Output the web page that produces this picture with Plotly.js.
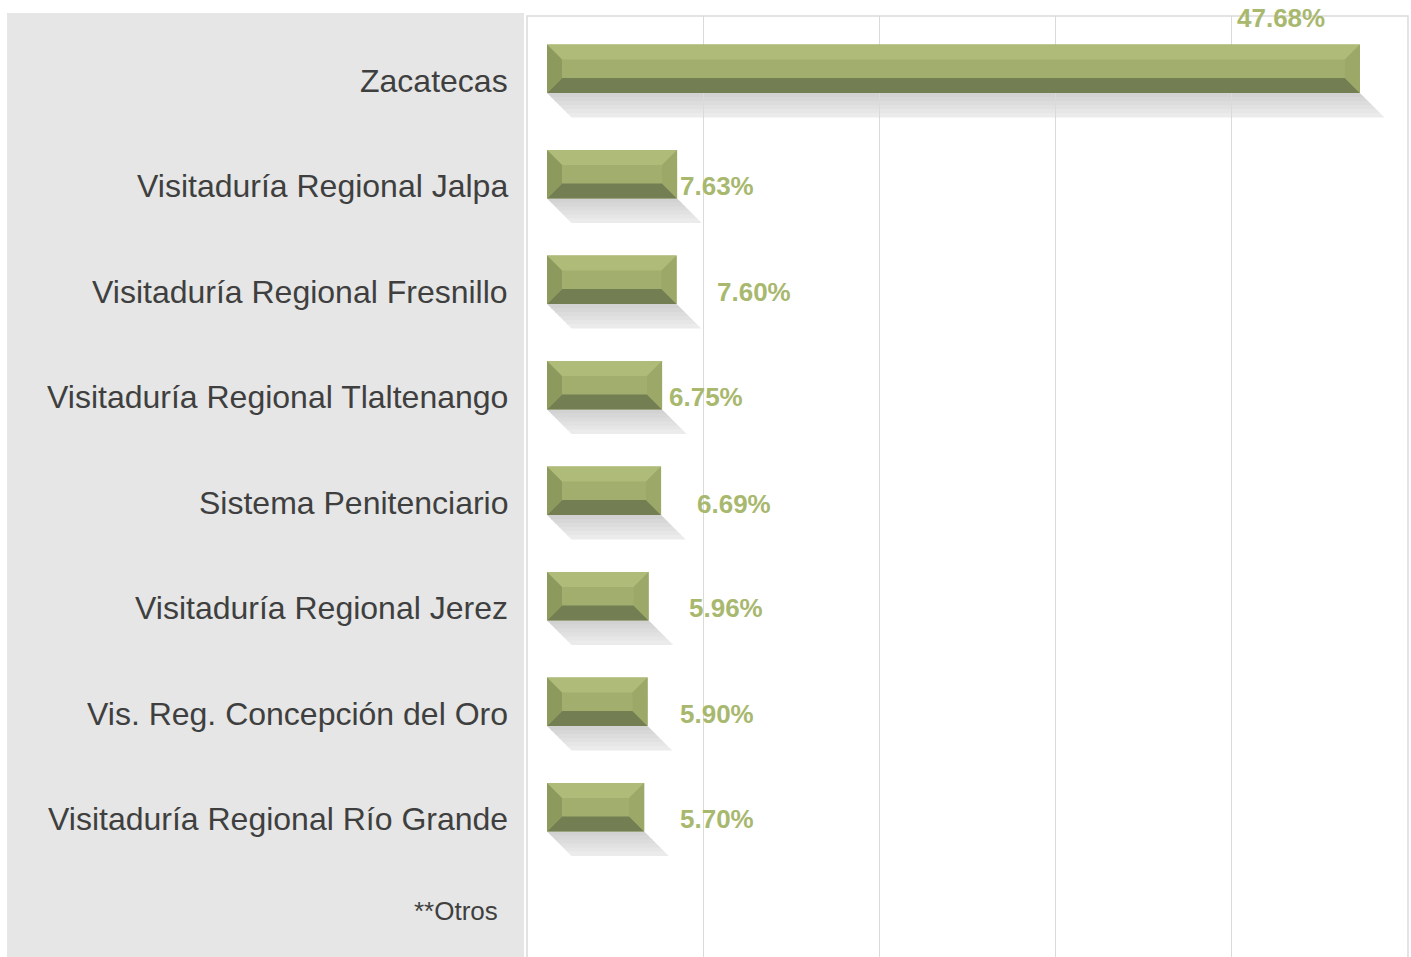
<!DOCTYPE html>
<html>
<head>
<meta charset="utf-8">
<script src="https://cdn.plot.ly/plotly-3.0.1.min.js"></script>
<style>html,body{margin:0;padding:0;background:#fff;}#chart{width:1411px;height:957px;}</style>
</head>
<body>
<div id="chart"></div>
<script>
// ---- data ----
const categories = [
  "Zacatecas",
  "Visitaduría Regional Jalpa",
  "Visitaduría Regional Fresnillo",
  "Visitaduría Regional Tlaltenango",
  "Sistema Penitenciario",
  "Visitaduría Regional Jerez",
  "Vis. Reg. Concepción del Oro",
  "Visitaduría Regional Río Grande",
  "**Otros"
];
const values = [47.68, 7.63, 7.60, 6.75, 6.69, 5.96, 5.90, 5.70, null];
const valueLabels = ["47.68%", "7.63%", "7.60%", "6.75%", "6.69%", "5.96%", "5.90%", "5.70%", ""];

// ---- styling (label nudges in pixels) ----
const labelDx = [-125, 1, 38, 5, 34, 38, 30, 34, 0];
const labelDy = [51, -12, -12, -12, -13, -12, -12, -12, 0];

const W = 1411, H = 957;
const margin = {l: 527, r: 3, t: 16, b: 0};
const plotW = W - margin.l - margin.r;
const plotH = H - margin.t - margin.b;
const xRange = [-1.173, 50.50];
const yRange = [8.42, -0.5];
const pxPerX = plotW / (xRange[1] - xRange[0]);
const pxPerY = plotH / (yRange[0] - yRange[1]);
const ux = p => p / pxPerX;
const uy = p => p / pxPerY;

const barThick = 0.46;
const half = barThick / 2;
const bev = 15;   // bevel size px
const sh = 24;    // shadow offset px

const colTop = "#AEBB79", colMid = "#A1AE6D", colBot = "#737F52",
      colLeft = "#8D9A5D", colRight = "#9BA867";
const shadowCols = ["#D2D2D2", "#D7D7D7", "#DCDCDC", "#E1E1E1", "#E6E6E6", "#EBEBEB"];

const shapes = [];
// grey label panel
shapes.push({type: "rect", xref: "paper", yref: "paper",
  x0: (7 - margin.l) / plotW, x1: (524 - margin.l) / plotW,
  y0: -0.05, y1: 1 + 3 / plotH,
  fillcolor: "#E5E6E5", line: {width: 0}, layer: "below"});
// plot border (top, left, right)
shapes.push({type: "path", xref: "paper", yref: "paper",
  path: "M0,0 L0,1 L1,1 L1,0", line: {color: "#DADADA", width: 1.5}, layer: "above"});

function P(pts) { return "M" + pts.map(p => p[0] + "," + p[1]).join(" L") + " Z"; }

values.forEach((v, i) => {
  if (v === null) return;
  const top = i - half, bot = i + half;
  // shadow (gradient strips)
  const n = shadowCols.length;
  for (let k = 0; k < n; k++) {
    const t0 = k / n * sh, t1 = (k + 1) / n * sh + 0.6;
    shapes.push({type: "path", xref: "x", yref: "y", layer: "below",
      path: P([[ux(t0), bot + uy(t0)], [v + ux(t0), bot + uy(t0)], [v + ux(t1), bot + uy(t1)], [ux(t1), bot + uy(t1)]]),
      fillcolor: shadowCols[k], line: {width: 0}});
  }
  const bx = ux(bev), by = uy(bev);
  // top bevel
  shapes.push({type: "path", xref: "x", yref: "y", layer: "above",
    path: P([[0, top], [v, top], [v - bx, top + by], [bx, top + by]]),
    fillcolor: colTop, line: {width: 0}});
  // bottom bevel
  shapes.push({type: "path", xref: "x", yref: "y", layer: "above",
    path: P([[0, bot], [v, bot], [v - bx, bot - by], [bx, bot - by]]),
    fillcolor: colBot, line: {width: 0}});
  // left bevel
  shapes.push({type: "path", xref: "x", yref: "y", layer: "above",
    path: P([[0, top], [bx, top + by], [bx, bot - by], [0, bot]]),
    fillcolor: colLeft, line: {width: 0}});
  // right bevel
  shapes.push({type: "path", xref: "x", yref: "y", layer: "above",
    path: P([[v, top], [v - bx, top + by], [v - bx, bot - by], [v, bot]]),
    fillcolor: colRight, line: {width: 0}});
});

const annotations = [];
categories.forEach((c, i) => {
  const isOtros = i === categories.length - 1;
  annotations.push({
    xref: "paper", yref: "y", x: ((isOtros ? 500 : 510) - margin.l) / plotW, y: i,
    xanchor: "right", yanchor: "middle", yshift: isOtros ? 2 : -12,
    text: c, showarrow: false,
    font: {family: "Arial, 'Liberation Sans', sans-serif", size: isOtros ? 26 : 32, color: "#3F3F3F"}
  });
  if (values[i] !== null) {
    annotations.push({
      xref: "x", yref: "y", x: values[i], y: i,
      xanchor: "left", yanchor: "middle", xshift: labelDx[i], yshift: labelDy[i],
      text: "<b>" + valueLabels[i] + "</b>", showarrow: false,
      font: {family: "Arial, 'Liberation Sans', sans-serif", size: 26, color: "#A8B86E"}
    });
  }
});

const trace = {
  type: "bar", orientation: "h",
  x: values, y: categories,
  width: barThick,
  marker: {color: colMid, line: {width: 0}},
  hoverinfo: "skip", showlegend: false
};

const layout = {
  width: W, height: H, margin: margin,
  paper_bgcolor: "#FFFFFF", plot_bgcolor: "#FFFFFF",
  hovermode: false, showlegend: false,
  xaxis: {range: xRange, showticklabels: false, ticks: "", zeroline: false,
    showgrid: true, gridcolor: "#DADADA", gridwidth: 1,
    tick0: xRange[0], dtick: (xRange[1] - xRange[0]) / 5, showline: false, fixedrange: true},
  yaxis: {type: "category", categoryorder: "array", categoryarray: categories,
    range: yRange, showticklabels: false, ticks: "", showgrid: false, zeroline: false,
    showline: false, fixedrange: true},
  shapes: shapes,
  annotations: annotations,
  font: {family: "Arial, 'Liberation Sans', sans-serif"}
};

Plotly.newPlot("chart", [trace], layout, {displayModeBar: false, staticPlot: true});
</script>
</body>
</html>
